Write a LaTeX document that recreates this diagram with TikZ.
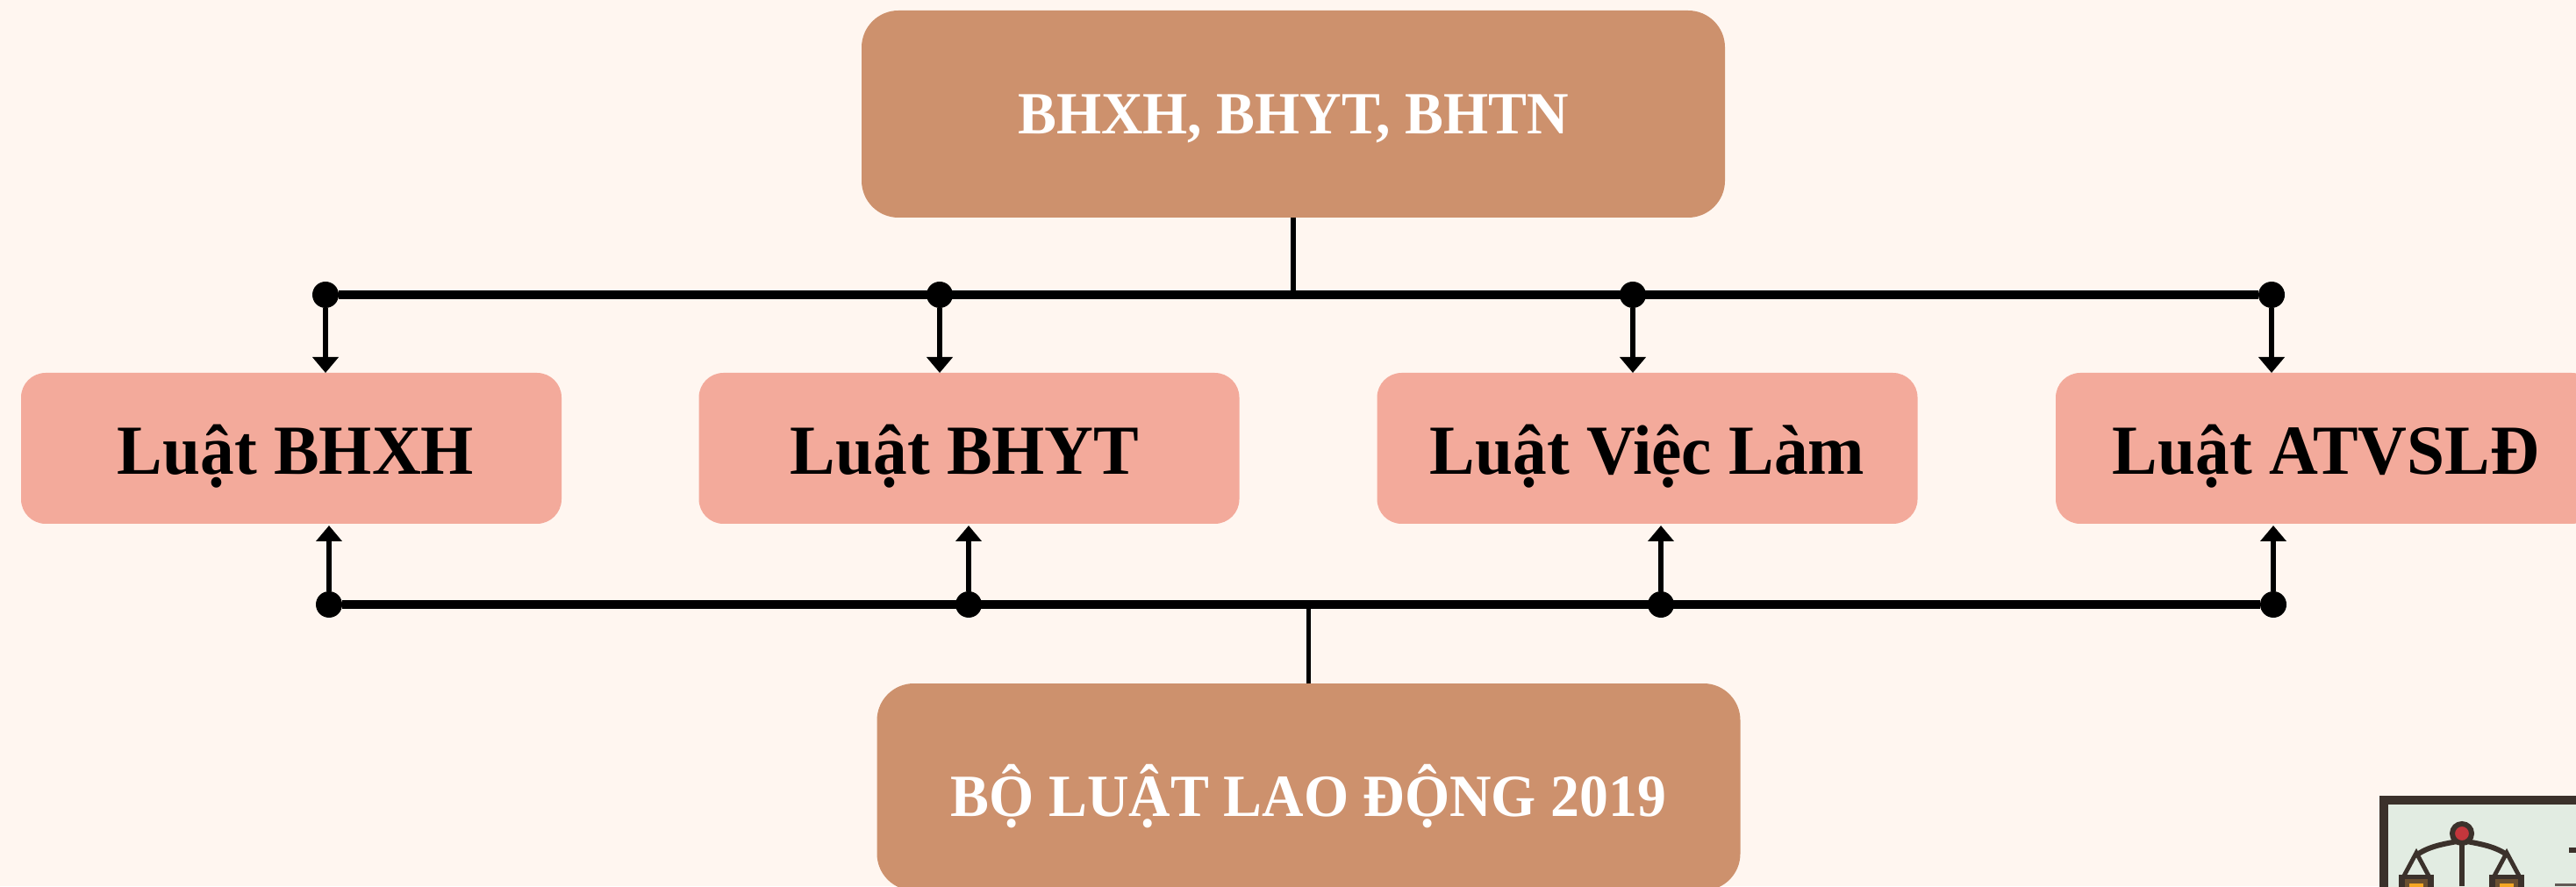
\documentclass[tikz,border=0pt]{standalone}
\usepackage{fontspec}
\setmainfont[FakeStretch=0.965]{Liberation Serif}
\usetikzlibrary{arrows.meta}

\definecolor{bgcream}{HTML}{FFF6F0}
\definecolor{lawbrown}{HTML}{CD916D}
\definecolor{lawpink}{HTML}{F3AA9B}
\definecolor{framedark}{HTML}{3B312B}
\definecolor{framefill}{HTML}{E2ECE2}
\definecolor{scalered}{HTML}{C4363C}
\definecolor{panbrown}{HTML}{6B5030}
\definecolor{panorange}{HTML}{F5A623}

\tikzset{
    bigbox/.style={fill=lawbrown,text=white,rounded corners=0.42cm,
        minimum width=9.84cm,minimum height=2.36cm,inner sep=0,outer sep=0,
        font=\bfseries\fontsize{19.4}{23}\selectfont},
    lawbox/.style={fill=lawpink,text=black,rounded corners=0.28cm,
        minimum width=6.16cm,minimum height=1.72cm,inner sep=0,outer sep=0,
        text height=0.75cm,text depth=0.15cm,
        font=\bfseries\fontsize{22.8}{27}\selectfont},
    busdot/.style={circle,fill=black,minimum size=0.3cm,inner sep=0,outer sep=0},
    bus/.style={line width=2.85pt},
    stem/.style={line width=1.6pt},
    feed/.style={line width=1.6pt,-{Triangle[width=0.29cm,length=0.18cm]}}
}

\begin{document}
\begin{tikzpicture}

\useasboundingbox (0,0) rectangle (29.36,10.10);
\clip (0,0) rectangle (29.36,10.10);
\fill[bgcream] (0,0) rectangle (29.36,10.10);

% picture in the corner
\filldraw[fill=framefill,draw=framedark,line width=2.85pt]
    (27.17,-0.5) -- (27.17,0.98) -- (29.9,0.98) -- (29.9,-0.5) -- cycle;
\draw[framedark,line width=1.7pt] (28.06,0) -- (28.06,0.6);
\draw[framedark,line width=1.7pt]
    (27.55,0.36) .. controls (27.7,0.46) and (27.85,0.48) .. (28.06,0.52)
    .. controls (28.27,0.48) and (28.42,0.46) .. (28.57,0.36);
\filldraw[fill=scalered,draw=framedark,line width=1.7pt] (28.06,0.6) circle (0.11);
\foreach \s in {27.54,28.57} {
    \draw[framedark,line width=1.4pt]
        (\s - 0.15,0.1) -- (\s,0.38) -- (\s + 0.15,0.1);
    \fill[framedark] (\s - 0.2,-0.1) rectangle (\s + 0.2,0.13);
    \fill[panbrown] (\s - 0.13,-0.1) rectangle (\s + 0.13,0.08);
    \fill[panorange] (\s - 0.08,-0.1) rectangle (\s + 0.08,0.03);
}
\fill[framedark] (29.28,0.38) rectangle (29.36,0.44);
\fill[framedark!80] (29.12,0) rectangle (29.36,0.03);

% laws
\node[bigbox,text height=0.6cm,text depth=0.14cm] (gov) at (14.74,8.80) {BHXH, BHYT, BHTN};
\node[bigbox,text height=0.8cm,text depth=0.14cm] (code) at (14.915,1.13) {BỘ LUẬT LAO ĐỘNG 2019};
\node[lawbox] (bhxh) at (3.32,4.99)  {\hspace*{0.1cm}Luật BHXH};
\node[lawbox] (bhyt) at (11.045,4.99) {Luật BHYT\hspace*{0.1cm}};
\node[lawbox] (vl)   at (18.775,4.99) {Luật Việc Làm};
\node[lawbox] (atv)  at (26.51,4.99) {Luật ATVSLĐ};

% top bus
\node[busdot] (ta) at (3.71,6.74)  {};
\node[busdot] (tb) at (10.71,6.74) {};
\node[busdot] (tc) at (18.61,6.74) {};
\node[busdot] (td) at (25.89,6.74) {};
\draw[bus] (ta) -- (td);
\draw[stem] (gov.south) -- (gov.south |- ta);
\foreach \d/\b in {ta/bhxh,tb/bhyt,tc/vl,td/atv}
    \draw[feed] (\d) -- (\d |- \b.north);

% bottom bus
\node[busdot] (ba) at (3.75,3.21)  {};
\node[busdot] (bb) at (11.04,3.21) {};
\node[busdot] (bc) at (18.93,3.21) {};
\node[busdot] (bd) at (25.91,3.21) {};
\draw[bus] (ba) -- (bd);
\draw[stem] (code.north) -- (code.north |- ba);
\foreach \d/\b in {ba/bhxh,bb/bhyt,bc/vl,bd/atv}
    \draw[feed,shorten >=0.02cm] (\d) -- (\d |- \b.south);

\end{tikzpicture}
\end{document}
